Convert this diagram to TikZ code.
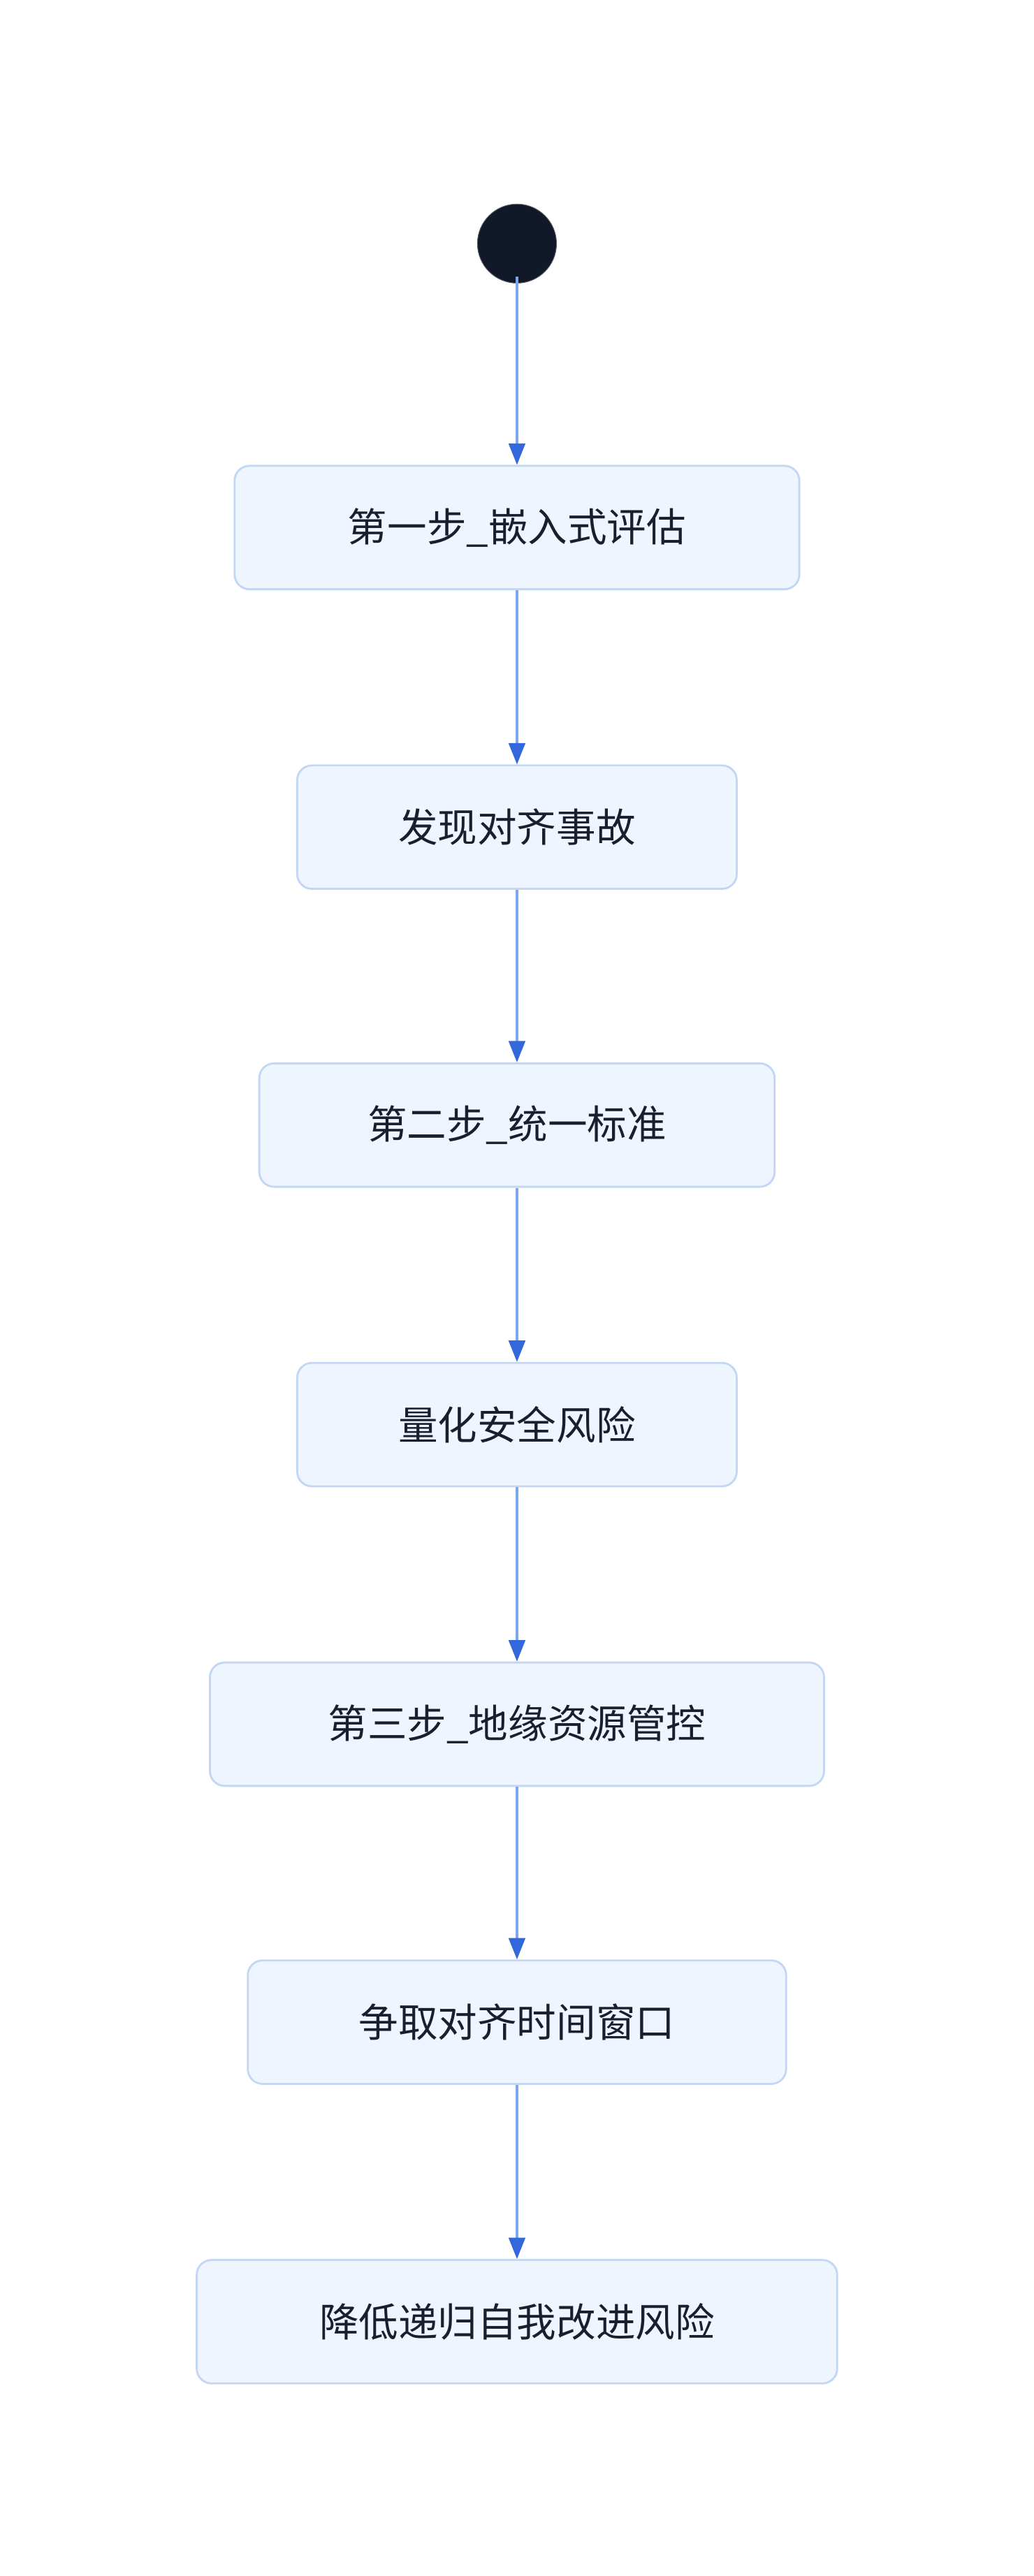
\documentclass[tikz,border=0pt]{standalone}
\usepackage{fontspec}
\setmainfont{Noto Sans CJK SC}
\usetikzlibrary{arrows.meta}
\definecolor{boxfill}{HTML}{EFF5FF}
\definecolor{boxdraw}{HTML}{C3D6F3}
\definecolor{linec}{HTML}{7BA7EF}
\definecolor{headc}{HTML}{3367DC}
\definecolor{startc}{HTML}{111827}
\definecolor{txt}{HTML}{1A1F2E}
\begin{document}
\begin{tikzpicture}[x=1pt,y=-1pt,
  box/.style={draw=boxdraw,line width=1.2pt,fill=boxfill,rounded corners=9pt,minimum height=75pt,text=txt,font=\fontsize{24}{28}\selectfont,inner sep=0pt},
  arr/.style={draw=linec,line width=1.4pt,-{Triangle[length=13pt,width=10pt,color=headc]}}]
\useasboundingbox (0,0) rectangle (628,1565);
\node[circle,fill=startc,draw=startc!70!white,minimum size=48pt,inner sep=0pt] (s) at (314,148) {};
\node[box,minimum width=343pt] (a) at (314,320.5) {第一步\_嵌入式评估};
\node[box,minimum width=267pt] (b) at (314,502.5) {发现对齐事故};
\node[box,minimum width=313pt] (c) at (314,683.5) {第二步\_统一标准};
\node[box,minimum width=267pt] (d) at (314,865.5) {量化安全风险};
\node[box,minimum width=373pt] (e) at (314,1047.5) {第三步\_地缘资源管控};
\node[box,minimum width=327pt] (f) at (314,1228.5) {争取对齐时间窗口};
\node[box,minimum width=389pt] (g) at (314,1410.5) {降低递归自我改进风险};
\draw[arr] ([yshift=4pt]s.south) -- (a.north);
\draw[arr] (a) -- (b);
\draw[arr] (b) -- (c);
\draw[arr] (c) -- (d);
\draw[arr] (d) -- (e);
\draw[arr] (e) -- (f);
\draw[arr] (f) -- (g);
\end{tikzpicture}
\end{document}
